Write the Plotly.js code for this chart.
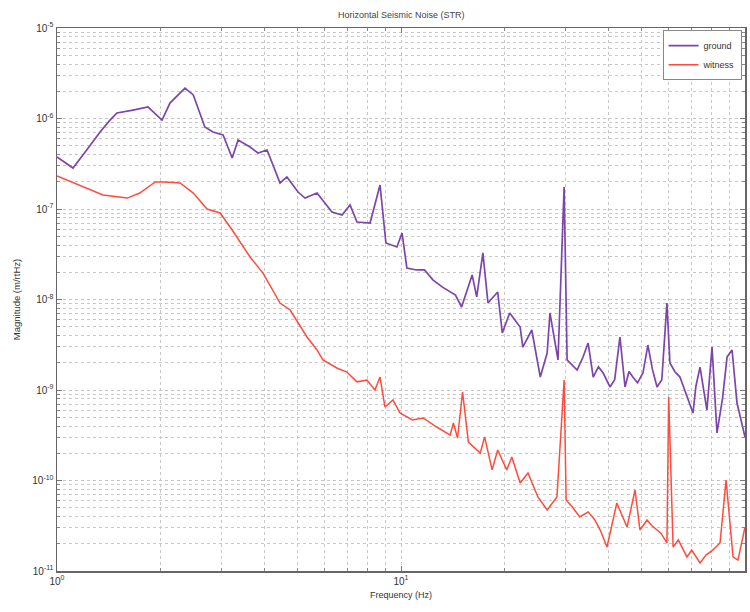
<!DOCTYPE html>
<html>
<head>
<meta charset="utf-8">
<script src="https://cdn.plot.ly/plotly-3.0.1.min.js"></script>
<style>html,body{margin:0;padding:0;background:#fff;}#chart{width:750px;height:612px;}</style>
</head>
<body>
<div id="chart"></div>
<script>
// Ground (purple) spectrum: frequency (Hz) and magnitude (m/rtHz)
var groundFreq = [1.0, 1.113, 1.22, 1.334, 1.426, 1.494, 1.663, 1.838, 2.02, 2.13, 2.355, 2.49, 2.69, 2.84, 3.04, 3.23, 3.36, 3.64, 3.84, 4.08, 4.45, 4.66, 5.02, 5.26, 5.70, 6.30, 6.74, 7.11, 7.45, 8.13, 8.69, 9.04, 9.73, 10.07, 10.4, 11.1, 11.7, 12.4, 13.2, 14.4, 15.0, 16.1, 16.6, 17.3, 17.9, 19.1, 19.7, 20.7, 22.2, 22.6, 24.0, 25.4, 26.6, 27.1, 28.6, 29.8, 30.4, 31.4, 32.5, 33.8, 35.0, 36.2, 37.5, 38.7, 40.5, 41.8, 43.3, 44.8, 46.0, 47.2, 48.7, 50.5, 52.2, 53.8, 55.5, 57.3, 59.3, 60.5, 62.5, 64.7, 67.5, 70.6, 72.0, 74.0, 77.5, 80.2, 82.9, 86.0, 88.7, 91.7, 94.8, 100];
var groundMag = [3.76e-7, 2.84e-7, 4.49e-7, 7.10e-7, 9.6e-7, 1.15e-6, 1.24e-6, 1.34e-6, 9.6e-7, 1.48e-6, 2.17e-6, 1.82e-6, 8.05e-7, 7.10e-7, 6.57e-7, 3.66e-7, 5.78e-7, 4.84e-7, 4.16e-7, 4.49e-7, 1.94e-7, 2.26e-7, 1.54e-7, 1.32e-7, 1.50e-7, 9.27e-8, 8.59e-8, 1.11e-7, 7.18e-8, 7.00e-8, 1.84e-7, 4.21e-8, 3.80e-8, 5.43e-8, 2.23e-8, 2.12e-8, 2.12e-8, 1.64e-8, 1.37e-8, 1.12e-8, 8.26e-9, 1.87e-8, 1.07e-8, 3.27e-8, 9.14e-9, 1.21e-8, 4.27e-9, 7.10e-9, 4.97e-9, 2.98e-9, 4.60e-9, 1.39e-9, 2.56e-9, 7.10e-9, 2.15e-9, 1.75e-7, 2.15e-9, 1.9e-9, 1.66e-9, 2.3e-9, 3.30e-9, 1.39e-9, 1.8e-9, 1.54e-9, 1.08e-9, 1.3e-9, 3.85e-9, 1.08e-9, 1.6e-9, 1.39e-9, 1.2e-9, 1.54e-9, 3.14e-9, 1.7e-9, 1.08e-9, 1.3e-9, 9.14e-9, 1.99e-9, 1.6e-9, 1.39e-9, 9.0e-10, 5.57e-10, 1.1e-9, 1.79e-9, 6.01e-10, 2.98e-9, 3.35e-10, 8.0e-10, 2.32e-9, 2.77e-9, 7.18e-10, 3.03e-10];

// Witness (red) spectrum
var witnessFreq = [1.0, 1.19, 1.36, 1.60, 1.74, 1.93, 2.06, 2.28, 2.49, 2.73, 2.98, 3.23, 3.64, 3.97, 4.45, 4.76, 5.33, 5.70, 5.93, 6.51, 6.96, 7.45, 7.96, 8.40, 8.69, 8.98, 9.48, 9.93, 10.8, 11.6, 12.7, 13.9, 14.2, 14.6, 15.1, 15.7, 17.0, 17.5, 18.4, 19.1, 20.3, 21.0, 22.2, 23.4, 25.0, 26.6, 28.4, 29.8, 30.2, 31.6, 33.1, 35.0, 36.6, 38.0, 39.7, 42.4, 44.0, 45.4, 47.9, 49.5, 51.9, 53.5, 55.5, 57.0, 59.3, 60.0, 61.8, 64.0, 67.8, 70.0, 74.0, 77.0, 80.7, 84.6, 88.1, 92.3, 95.4, 100];
var witnessMag = [2.32e-7, 1.75e-7, 1.43e-7, 1.32e-7, 1.50e-7, 1.99e-7, 1.99e-7, 1.94e-7, 1.50e-7, 1.0e-7, 9.03e-8, 5.86e-8, 2.95e-8, 1.96e-8, 9.14e-9, 7.66e-9, 3.85e-9, 2.77e-9, 2.15e-9, 1.75e-9, 1.58e-9, 1.23e-9, 1.29e-9, 1.0e-9, 1.39e-9, 6.49e-10, 7.76e-10, 5.57e-10, 4.67e-10, 4.91e-10, 3.90e-10, 3.18e-10, 4.32e-10, 2.95e-10, 9.50e-10, 2.66e-10, 2.01e-10, 3.03e-10, 1.31e-10, 2.17e-10, 1.31e-10, 1.82e-10, 9.38e-11, 1.21e-10, 6.58e-11, 4.72e-11, 6.58e-11, 1.29e-9, 6.10e-11, 5.0e-11, 3.95e-11, 4.5e-11, 3.66e-11, 2.8e-11, 1.84e-11, 5.64e-11, 4.0e-11, 3.06e-11, 7.85e-11, 2.84e-11, 3.66e-11, 3.2e-11, 2.84e-11, 2.6e-11, 2.04e-11, 8.38e-10, 1.84e-11, 2.2e-11, 1.43e-11, 1.7e-11, 1.23e-11, 1.5e-11, 1.71e-11, 2.04e-11, 1.01e-10, 1.43e-11, 1.32e-11, 3.06e-11];

var seriesNames = ["ground", "witness"];
var titleText = "Horizontal Seismic Noise (STR)";
var xTitle = "Frequency (Hz)";
var yTitle = "Magnitude (m/rtHz)";
var xDecades = [0, 1, 2];
var yDecades = [-11, -10, -9, -8, -7, -6, -5];

function majorTicks(decades) {
  return {
    vals: decades.map(function (d) { return Math.pow(10, d); }),
    text: decades.map(function (d) { return "10<sup>" + d + "</sup>"; })
  };
}
function minorTicks(decades) {
  var vals = [];
  for (var i = 0; i < decades.length - 1; i++) {
    for (var m = 2; m <= 9; m++) vals.push(m * Math.pow(10, decades[i]));
  }
  return vals;
}
var xt = majorTicks(xDecades), yt = majorTicks(yDecades);

var traces = [
  {x: groundFreq, y: groundMag, name: seriesNames[0], type: "scatter", mode: "lines",
   line: {color: "#7d45ac", width: 1.7}},
  {x: witnessFreq, y: witnessMag, name: seriesNames[1], type: "scatter", mode: "lines",
   line: {color: "#ff4b3c", width: 1.5}}
];

var FONT = "Liberation Sans, Arial, sans-serif";
function axisCommon(decades) {
  return {
    type: "log", showline: true, mirror: "ticks", linecolor: "#666", linewidth: 1.5,
    ticks: "inside", ticklen: 5, tickcolor: "#777", showgrid: true,
    gridcolor: "#c4c4c4", griddash: "dot", gridwidth: 1, zeroline: false,
    tickfont: {family: FONT, size: 10, color: "#333"},
    minor: {tickvals: minorTicks(decades), ticks: "inside", ticklen: 3, tickcolor: "#888",
            showgrid: true, gridcolor: "#c8c8c8", griddash: "dot", gridwidth: 1}
  };
}

var layout = {
  width: 750, height: 612,
  margin: {l: 57, r: 5, t: 28, b: 41},
  paper_bgcolor: "#fff", plot_bgcolor: "#fff",
  showlegend: true,
  title: {text: titleText, x: 0.535, xanchor: "center", y: 0.975, yanchor: "middle",
          font: {family: FONT, size: 9, color: "#444"}},
  xaxis: Object.assign(axisCommon(xDecades), {
    range: [0, 2], tickmode: "array", tickvals: xt.vals, ticktext: xt.text,
    title: {text: xTitle, standoff: 6, font: {family: FONT, size: 9, color: "#333"}}
  }),
  yaxis: Object.assign(axisCommon(yDecades), {
    range: [-11, -5], tickmode: "array", tickvals: yt.vals, ticktext: yt.text,
    title: {text: yTitle, standoff: 10, font: {family: FONT, size: 9.5, color: "#333"}}
  }),
  legend: {x: 0.995, y: 0.996, xanchor: "right", yanchor: "top", bgcolor: "#fff",
           bordercolor: "#888", borderwidth: 1, itemwidth: 30,
           font: {family: FONT, size: 9, color: "#333"},
           tracegroupgap: 0}
};

Plotly.newPlot("chart", traces, layout, {staticPlot: true, displayModeBar: false});
</script>
</body>
</html>
